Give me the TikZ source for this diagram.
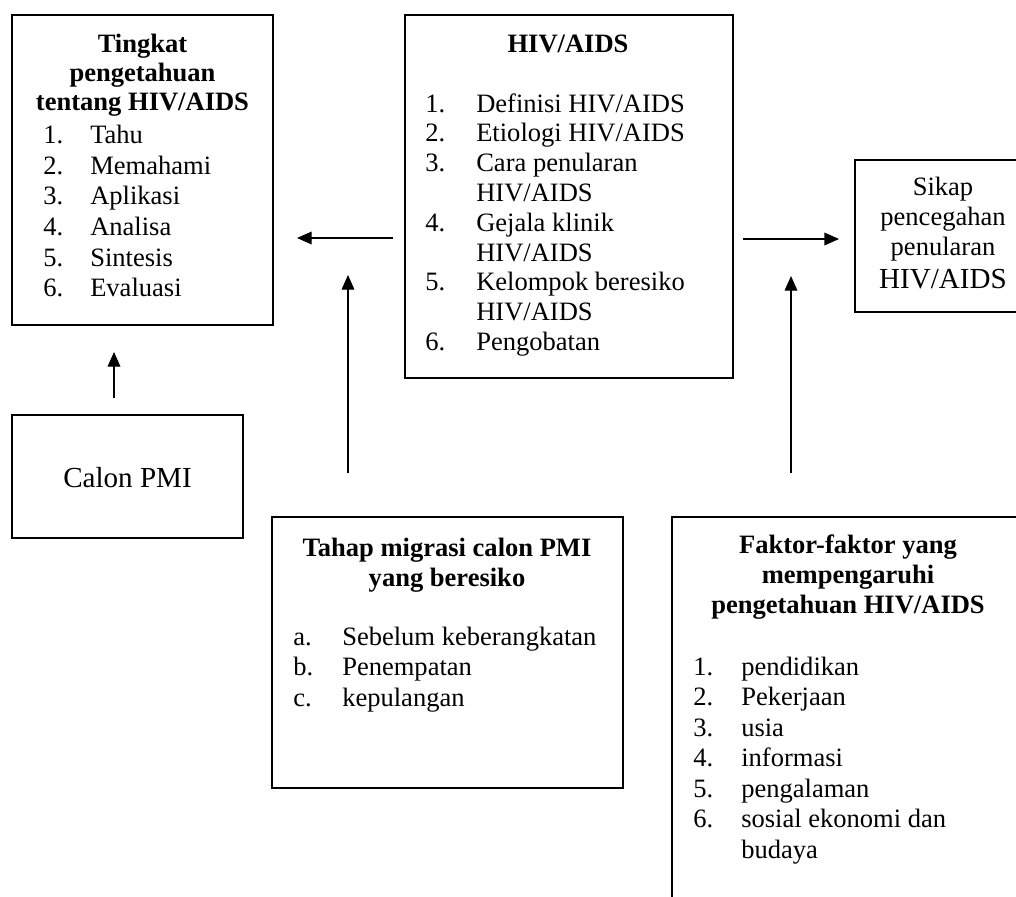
\documentclass[tikz,border=0pt]{standalone}
\usepackage{fontspec}
\setmainfont{Liberation Serif}
\usetikzlibrary{arrows.meta}
\begin{document}
\begin{tikzpicture}[x=0.75pt,y=-0.75pt,
  box/.style={draw, line width=1.7pt, inner sep=0pt},
  txt/.style={inner sep=0pt, anchor=base west, font=\fontsize{19.9pt}{22pt}\selectfont},
  ctxt/.style={inner sep=0pt, anchor=base, font=\fontsize{19.9pt}{22pt}\selectfont},
  head/.style={inner sep=0pt, anchor=base, font=\fontsize{19.9pt}{22pt}\selectfont\bfseries},
  big/.style={inner sep=0pt, anchor=base, font=\fontsize{21.8pt}{24pt}\selectfont},
  arr/.style={line width=1pt, -{Triangle[length=11pt,width=9.5pt]}}]
\useasboundingbox (0,0) rectangle (1016,896);
\clip (0,0) rectangle (1016,896);
\fill[white] (0,0) rectangle (1016,896);

% Box 1: Tingkat pengetahuan
\node[box, minimum width=195.75pt, minimum height=232.5pt] (b1) at (142.5,170) {};
\node[head] (b1h1) at (142.5,52.7) {Tingkat};
\node[head] (b1h2) at (142.5,81.7) {pengetahuan};
\node[head] (b1h3) at (142.5,110.7) {tentang HIV/AIDS};
\node[txt] (b1n1) at (43,143.3) {1.}; \node[txt] (b1t1) at (90,143.3) {Tahu};
\node[txt] (b1n2) at (43,174.0) {2.}; \node[txt] (b1t2) at (90,174.0) {Memahami};
\node[txt] (b1n3) at (43,204.7) {3.}; \node[txt] (b1t3) at (90,204.7) {Aplikasi};
\node[txt] (b1n4) at (43,235.4) {4.}; \node[txt] (b1t4) at (90,235.4) {Analisa};
\node[txt] (b1n5) at (43,266.1) {5.}; \node[txt] (b1t5) at (90,266.1) {Sintesis};
\node[txt] (b1n6) at (43,296.8) {6.}; \node[txt] (b1t6) at (90,296.8) {Evaluasi};

% Box 2: HIV/AIDS
\node[box, minimum width=246pt, minimum height=272.25pt] (b2) at (569,196.5) {};
\node[head] (b2h) at (568,52) {HIV/AIDS};
\node[txt] (b2n1) at (425,112.0) {1.}; \node[txt] (b2t1) at (476,112.0) {Definisi HIV/AIDS};
\node[txt] (b2n2) at (425,141.8) {2.}; \node[txt] (b2t2) at (476,141.8) {Etiologi HIV/AIDS};
\node[txt] (b2n3) at (425,171.6) {3.}; \node[txt] (b2t3) at (476,171.6) {Cara penularan};
\node[txt] (b2t3b) at (476,201.4) {HIV/AIDS};
\node[txt] (b2n4) at (425,231.2) {4.}; \node[txt] (b2t4) at (476,231.2) {Gejala klinik};
\node[txt] (b2t4b) at (476,261.0) {HIV/AIDS};
\node[txt] (b2n5) at (425,290.8) {5.}; \node[txt] (b2t5) at (476,290.8) {Kelompok beresiko};
\node[txt] (b2t5b) at (476,320.6) {HIV/AIDS};
\node[txt] (b2n6) at (425,350.4) {6.}; \node[txt] (b2t6) at (476,350.4) {Pengobatan};

% Box 3: Sikap
\node[box, minimum width=132pt, minimum height=114pt] (b3) at (943,236) {};
\node[ctxt] (b3l1) at (943,195) {Sikap};
\node[ctxt] (b3l2) at (943,225) {pencegahan};
\node[ctxt] (b3l3) at (943,255) {penularan};
\node[big] (b3l4) at (943,288) {HIV/AIDS};

% Box 4: Calon PMI
\node[box, minimum width=173.25pt, minimum height=92.25pt] (b4) at (127.5,476.5) {};
\node[big] (b4l) at (127.5,487) {Calon PMI};

% Box 5: Tahap migrasi
\node[box, minimum width=263.25pt, minimum height=203.25pt] (b5) at (447.5,652.5) {};
\node[head] (b5h1) at (447,556.7) {Tahap migrasi calon PMI};
\node[head] (b5h2) at (447,586) {yang beresiko};
\node[txt] (b5n1) at (293,645) {a.}; \node[txt] (b5t1) at (342,645) {Sebelum keberangkatan};
\node[txt] (b5n2) at (293,675.5) {b.}; \node[txt] (b5t2) at (342,675.5) {Penempatan};
\node[txt] (b5n3) at (293,706) {c.}; \node[txt] (b5t3) at (342,706) {kepulangan};

% Box 6: Faktor-faktor
\node[box, minimum width=264pt, minimum height=302.25pt] (b6) at (848,718.5) {};
\node[head] (b6h1) at (848,553) {Faktor-faktor yang};
\node[head] (b6h2) at (848,583) {mempengaruhi};
\node[head] (b6h3) at (848,613) {pengetahuan HIV/AIDS};
\node[txt] (b6n1) at (693,675) {1.}; \node[txt] (b6t1) at (741,675) {pendidikan};
\node[txt] (b6n2) at (693,705.5) {2.}; \node[txt] (b6t2) at (741,705.5) {Pekerjaan};
\node[txt] (b6n3) at (693,736) {3.}; \node[txt] (b6t3) at (741,736) {usia};
\node[txt] (b6n4) at (693,766.5) {4.}; \node[txt] (b6t4) at (741,766.5) {informasi};
\node[txt] (b6n5) at (693,797) {5.}; \node[txt] (b6t5) at (741,797) {pengalaman};
\node[txt] (b6n6) at (693,827.5) {6.}; \node[txt] (b6t6) at (741,827.5) {sosial ekonomi dan};
\node[txt] (b6t6b) at (741,858) {budaya};

% Arrow end points
\coordinate (a1s) at (393,238); \coordinate (a1e) at (297,238);
\coordinate (a2s) at (348,473); \coordinate (a2e) at (348,275);
\coordinate (a3s) at (114,398); \coordinate (a3e) at (114,352);
\coordinate (a4s) at (743,239); \coordinate (a4e) at (839,239);
\coordinate (a5s) at (791,473); \coordinate (a5e) at (791,276);

\draw[arr] (a1s) -- (a1e);
\draw[arr] (a2s) -- (a2e);
\draw[arr] (a3s) -- (a3e);
\draw[arr] (a4s) -- (a4e);
\draw[arr] (a5s) -- (a5e);
\end{tikzpicture}
\end{document}
